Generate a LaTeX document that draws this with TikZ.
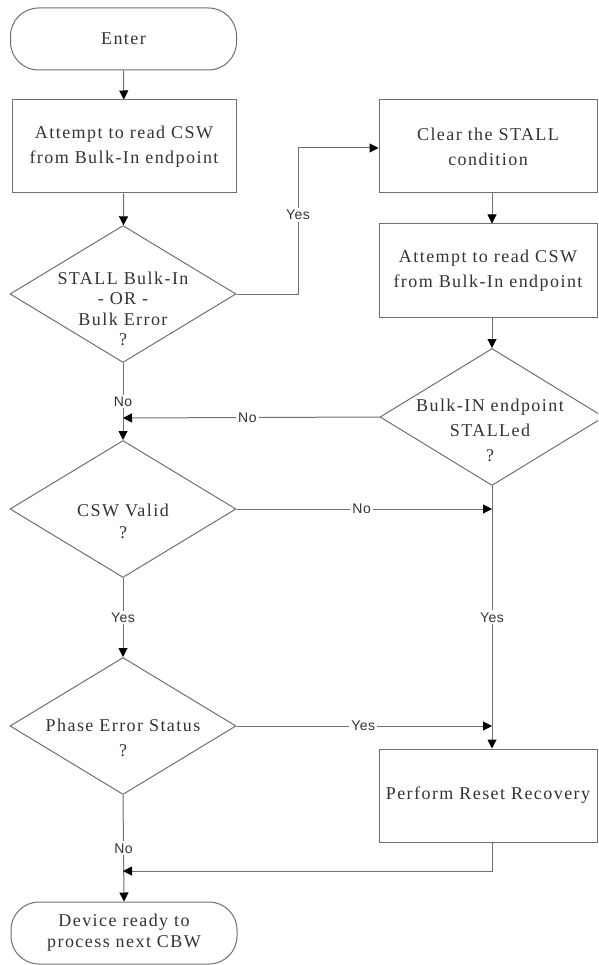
\documentclass[tikz,border=0pt]{standalone}
\usepackage{fontspec}
\newfontfamily\boxfont{Liberation Serif}[LetterSpace=8]
\newfontfamily\lblfont{Liberation Sans}[LetterSpace=4]
\usetikzlibrary{shapes.geometric,arrows.meta}
\definecolor{linegray}{HTML}{707070}
\definecolor{inkgray}{HTML}{333333}
\tikzset{
  shapeline/.style={draw=linegray, line width=1pt},
  procbox/.style={shapeline, rectangle, minimum width=218pt, minimum height=93pt, inner sep=0pt},
  leftbox/.style={procbox, minimum width=224pt},
  termbox/.style={shapeline, rectangle, rounded corners=28pt, minimum width=226pt, minimum height=62pt, inner sep=0pt},
  decision/.style={shapeline, diamond, minimum width=226pt, minimum height=137pt, inner sep=0pt},
  boxtext/.style={text=inkgray, font=\boxfont\fontsize{18}{25}\selectfont, align=center, inner sep=0pt},
  flow/.style={draw=linegray, line width=1pt, -{Triangle[length=9pt,width=9pt,color=black]}},
  lbl/.style={fill=white, text=inkgray, font=\lblfont\fontsize{14}{16}\selectfont, inner sep=2pt},
}
\begin{document}
\begin{tikzpicture}[x=1pt,y=-1pt]
\useasboundingbox (0,0) rectangle (598,965);
\clip (0,0) rectangle (598,965);
\fill[white] (0,0) rectangle (598,965);

% left column
\node[termbox, boxtext] (enter) at (123.5,39) {Enter};
\node[leftbox, boxtext] (read1) at (124,146.5) {Attempt to read CSW\\from Bulk-In endpoint};
\node[decision] (stall) at (123,294) {};
\node[boxtext, font=\boxfont\fontsize{18}{20.5}\selectfont] at (123,309) {STALL Bulk-In\\- OR -\\Bulk Error\\?};
\node[decision] (valid) at (123,509) {};
\node[boxtext, font=\boxfont\fontsize{18}{22}\selectfont] at (123,521) {CSW Valid\\?};
\node[decision] (phase) at (123,726) {};
\node[boxtext] at (123,738) {Phase Error Status\\?};
\node[termbox, boxtext, font=\boxfont\fontsize{18}{21}\selectfont] (done) at (124,933) {Device ready to\\process next CBW};

% right column
\node[procbox, boxtext] (clear) at (488,146.5) {Clear the STALL\\condition};
\node[procbox, boxtext] (read2) at (488,270.5) {Attempt to read CSW\\from Bulk-In endpoint};
\node[decision, minimum width=224pt] (install) at (492,417) {};
\node[boxtext] at (490,430) {Bulk-IN endpoint\\STALLed\\?};
\node[procbox, boxtext] (reset) at (488,795.5) {Perform Reset Recovery};

% junction points
\coordinate (j1) at (123,418);
\coordinate (j2) at (123,871);
\coordinate (ybend) at (298,148);

% connectors
\draw[flow] (enter) -- (read1);
\draw[flow] (read1) -- (stall);
\draw[flow] (stall.east) -| (ybend) node[lbl, pos=0.77] {Yes} -- (clear.west |- ybend);
\draw[flow] (clear.south -| install) -- (read2.north -| install);
\draw[flow] (read2.south -| install) -- (install.north);
\draw[flow] (install.west) -- node[lbl, pos=0.515] {No} (j1);
\draw[flow] (stall.south) -- node[lbl, pos=0.5] {No} (valid.north);
\draw[flow] (valid.east) -- node[lbl, pos=0.49] {No} (valid.east -| install);
\draw[flow] (install.south) -- node[lbl, pos=0.5] {Yes} (reset.north -| install);
\draw[flow] (valid.south) -- node[lbl, pos=0.5] {Yes} (phase.north);
\draw[flow] (phase.east) -- node[lbl, pos=0.496] {Yes} (phase.east -| install);
\draw[flow] (phase.south) -- node[lbl, pos=0.5] {No} (done.north);
\draw[flow] (reset.south -| install) |- (j2);
\end{tikzpicture}
\end{document}
